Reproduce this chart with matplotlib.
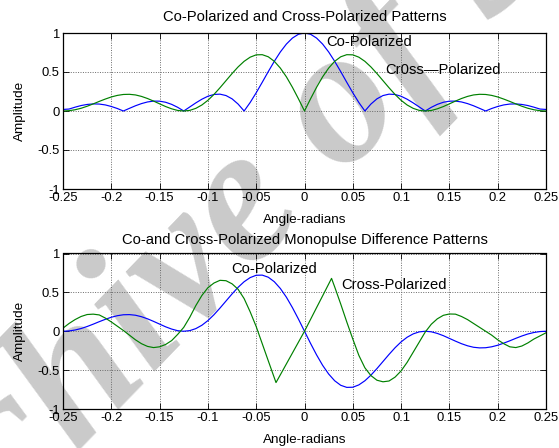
import numpy as np
import matplotlib
matplotlib.use("Agg")
import matplotlib.pyplot as plt

# ---------------- data ----------------
angle = np.linspace(-0.25, 0.25, 81)

co_sum = [0.02, .025, .049, .070, .084, .091, .089, .078, .058, .032, 0, .034, .067, .095, .116,
          .127, .126, .112, .085, .047, 0, .052, .104, .151, .189, .212, .216, .198, .156, .089,
          0, .109, .234, .368, .505, .637, .757, .858, .935, .984, 1,
          .984, .935, .858, .757, .637, .505, .368, .234, .109, 0, .089, .156, .198, .216, .212,
          .189, .151, .104, .052, 0, .047, .085, .112, .126, .127, .116, .095, .067, .034, 0,
          .032, .058, .078, .089, .091, .084, .070, .049, .025, 0.02]

cross_sum = [0, .004, .016, .035, .061, .091, .123, .153, .180, .200, .212, .214, .206, .187, .160,
             .127, .092, .057, .028, .007, 0, .008, .034, .077, .137, .212, .298, .389, .480, .565,
             .637, .690, .720, .722, .695, .637, .550, .438, .304, .156, 0,
             .156, .304, .438, .550, .637, .695, .722, .720, .690, .637, .565, .480, .389, .298,
             .212, .137, .077, .034, .008, 0, .007, .028, .057, .092, .127, .160, .187, .206, .214,
             .212, .200, .180, .153, .123, .091, .061, .035, .016, .004, 0]

co_diff = [0, .004, .016, .035, .061, .091, .123, .153, .180, .200, .212, .214, .206, .187, .160,
           .127, .092, .057, .028, .007, 0, .008, .034, .077, .137, .212, .298, .389, .480, .565,
           .637, .690, .720, .722, .695, .637, .550, .438, .304, .156, 0,
           -.156, -.304, -.438, -.550, -.637, -.695, -.722, -.720, -.690, -.637, -.565, -.480,
           -.389, -.298, -.212, -.137, -.077, -.034, -.008, 0, -.007, -.028, -.057, -.092, -.127,
           -.160, -.187, -.206, -.214, -.212, -.200, -.180, -.153, -.123, -.091, -.061, -.035,
           -.016, -.004, 0]

angle_cd = [-0.25, -0.24375, -0.2375, -0.23125, -0.225, -0.21875, -0.2125, -0.20625, -0.2,
            -0.19375, -0.1875, -0.18125, -0.175, -0.16875, -0.1625, -0.15625, -0.15, -0.14375,
            -0.1375, -0.13125, -0.125, -0.11875, -0.1125, -0.10625, -0.1, -0.09375, -0.0875,
            -0.08125, -0.075, -0.06875, -0.0625, -0.05625, -0.05, -0.04375, -0.0375, -0.0295,
            -0.025, -0.01875, -0.0125, -0.00625, 0,
            0.00625, 0.0125, 0.01875, 0.025, 0.028, 0.03125, 0.0375, 0.04375, 0.05, 0.05625,
            0.0625, 0.06875, 0.075, 0.08125, 0.0875, 0.09375, 0.1, 0.10625, 0.1125, 0.11875,
            0.125, 0.13125, 0.1375, 0.14375, 0.15, 0.15625, 0.1625, 0.16875, 0.175, 0.18125,
            0.1875, 0.19375, 0.2, 0.20625, 0.2125, 0.21875, 0.225, 0.23125, 0.2375, 0.24375, 0.25]

cross_diff = [0.04, 0.10, 0.15, 0.19, 0.215, 0.22, 0.21, 0.17, 0.12, 0.065, 0.01, -0.05, -0.11,
              -0.16, -0.195, -0.21, -0.20, -0.17, -0.12, -0.04, 0.05, 0.18, 0.33, 0.46, 0.56,
              0.62, 0.655, 0.65, 0.61, 0.54, 0.42, 0.25, 0.06, -0.16, -0.38, -0.66,
              -0.56, -0.42, -0.28, -0.14, 0,
              0.152, 0.304, 0.455, 0.607, 0.68, 0.57, 0.35, 0.12, -0.10, -0.31, -0.47, -0.57,
              -0.63, -0.65, -0.64, -0.59, -0.51, -0.40, -0.27, -0.14, -0.01, 0.09, 0.16, 0.205,
              0.222, 0.22, 0.19, 0.15, 0.10, 0.05, 0.00, -0.05, -0.11, -0.16, -0.20, -0.21,
              -0.19, -0.15, -0.10, -0.06, -0.02]

xticks = [-0.25, -0.2, -0.15, -0.1, -0.05, 0, 0.05, 0.1, 0.15, 0.2, 0.25]
xtick_labels = ['-0.25', '-0.2', '-0.15', '-0.1', '-0.05', '0', '0.05', '0.1', '0.15', '0.2', '0.25']
yticks = [-1, -0.5, 0, 0.5, 1]
ytick_labels = ['-1', '-0.5', '0', '0.5', '1']

title_top = 'Co-Polarized and Cross-Polarized Patterns'
title_bot = 'Co-and Cross-Polarized Monopulse Difference Patterns'
xlabel = 'Angle-radians'
ylabel = 'Amplitude'

# ---------------- style ----------------
plt.rcParams['font.family'] = ['Liberation Sans', 'DejaVu Sans']
TICK_FS = 9.4
TITLE_FS = 10.6
LABEL_FS = 9.7
ANN_FS = 10.6

BLUE = (0, 0, 1)
GREEN = (0, 0.5, 0)

fig = plt.figure(figsize=(5.59, 4.48), dpi=100)
fig.patch.set_facecolor('white')

# watermark (drawn under the transparent axes)
fig.text(0.47, 0.55, 'Archive of SID', rotation=46, rotation_mode='anchor',
         ha='center', va='center', fontsize=140, family='Liberation Serif',
         weight='bold', style='italic', color='#cacaca', zorder=-1)

ax1 = fig.add_axes([63 / 559, 1 - 189 / 448, 483 / 559, 156 / 448])
ax2 = fig.add_axes([63 / 559, 1 - 409 / 448, 483 / 559, 155.5 / 448])


def style(ax, title, tpos):
    ax.set_facecolor('none')
    ax.set_xlim(-0.25, 0.25)
    ax.set_ylim(-1, 1)
    ax.set_xticks(xticks)
    ax.set_xticklabels(xtick_labels, fontsize=TICK_FS)
    ax.set_yticks(yticks)
    ax.set_yticklabels(ytick_labels, fontsize=TICK_FS)
    ax.tick_params(direction='in', length=4, width=0.6, top=True, right=True,
                   pad=2.5, colors='black')
    ax.grid(True, color='#6a6a6a', linestyle=(0, (1, 1.5)), linewidth=0.7)
    for s in ax.spines.values():
        s.set_linewidth(0.9)
        s.set_color('black')
    ax.set_title(title, fontsize=TITLE_FS, y=tpos, va='center', pad=0)
    ax.set_xlabel(xlabel, fontsize=LABEL_FS, va='center')
    ax.xaxis.set_label_coords(0.5, -0.199)
    ax.set_ylabel(ylabel, fontsize=LABEL_FS, va='center')
    ax.yaxis.set_label_coords(-0.089, 0.5)


ax1.plot(angle, co_sum, color=BLUE, lw=0.85)
ax1.plot(angle, cross_sum, color=GREEN, lw=0.85)
style(ax1, title_top, 1.103)
ax1.text(0.023, 0.89, 'Co-Polarized', fontsize=ANN_FS, va='center', ha='left')
ax1.text(0.084, 0.52, 'Cr0ss\u2014Polarized', fontsize=ANN_FS, va='center', ha='left')

ax2.plot(angle, co_diff, color=BLUE, lw=0.85)
ax2.plot(angle_cd, cross_diff, color=GREEN, lw=0.85)
style(ax2, title_bot, 1.087)
ax2.text(-0.076, 0.80, 'Co-Polarized', fontsize=ANN_FS, va='center', ha='left')
ax2.text(0.0385, 0.60, 'Cross-Polarized', fontsize=ANN_FS, va='center', ha='left')

fig.savefig('out.png', dpi=100, facecolor='white')
